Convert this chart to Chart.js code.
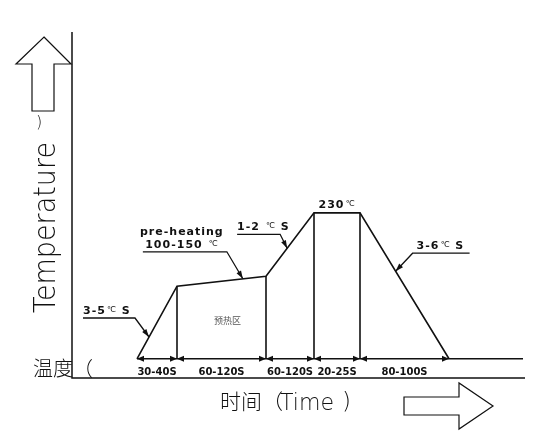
<!DOCTYPE html>
<html>
<head>
<meta charset="utf-8">
<title>Reflow profile</title>
<script src="https://cdn.jsdelivr.net/npm/chart.js@4"></script>
<style>
  html, body { margin: 0; padding: 0; background: #fff; }
  canvas { display: block; }
</style>
</head>
<body>
<canvas id="profile" width="533" height="439"></canvas>
<script>
// corner points of the profile (schematic time units, °C)
const profileTimes = [0, 40, 129, 177, 223, 312];
const profileTemps = [25, 127, 141, 230, 230, 25];

// one label per stage between two corners
const stageLabels = ['30-40S', '60-120S', '60-120S', '20-25S', '80-100S'];

// slope callouts, indexed by stage (null = none)
const rateLabels = [['3-5℃ S'], ['pre-heating', '100-150 ℃'], ['1-2 ℃ S'], null, ['3-6℃ S']];

const peakLabel = '230℃';
const zoneLabel = '预热区';
const yTitle = 'Temperature';
const yTitleCn = '温度（';
const xTitleCn = '时间（';
const xTitle = 'Time';

const timeMin = -65, timeMax = 386;
const tempMin = -2, tempMax = 484;

const ink = '#111';
const boldFont = size => `bold ${size}px "DejaVu Sans"`;
const thinFont = size => `200 ${size}px "DejaVu Sans"`;
const cjkFont = size => `300 ${size}px "Noto Sans CJK SC"`;

const lineStyle = {
  showLine: true,
  borderColor: ink,
  borderWidth: 1.6,
  pointRadius: 0,
  tension: 0,
  fill: false
};

const baseTemp = profileTemps[0];
const profilePoints = profileTimes.map((t, i) => ({ x: t, y: profileTemps[i] }));

// vertical lines under each inner corner
const dropLines = profileTimes.slice(1, -1).map((t, i) => ({
  ...lineStyle,
  data: [{ x: t, y: baseTemp }, { x: t, y: profileTemps[i + 1] }]
}));

// where the callout arrows hit each stage, and how the leader runs
const callouts = [
  { seg: 0, t: 0.30, elbow: [-14, -19], run: -52, align: 'left', dx: 0 },
  { seg: 1, t: 0.74, elbow: [-16, -27], run: -84, align: 'center', dx: -3 },
  { seg: 2, t: 0.44, elbow: [-7, -14], run: -43, align: 'left', dx: 0 },
  { seg: 4, t: 0.40, elbow: [17, -18], run: 57, align: 'left', dx: 4 }
];

// bold text with a small raised ℃ sign
function richText(ctx, str, x, y, size, draw) {
  const parts = str.split('℃');
  let cx = x;
  parts.forEach((p, i) => {
    if (i > 0) {
      ctx.letterSpacing = '0px';
      ctx.font = `${size - 3}px "DejaVu Sans"`;
      if (draw) ctx.fillText('℃', cx + 1, y - 2);
      cx += ctx.measureText('℃').width + 2;
    }
    ctx.letterSpacing = '1px';
    ctx.font = boldFont(size);
    if (draw) ctx.fillText(p, cx, y);
    cx += ctx.measureText(p).width;
  });
  ctx.letterSpacing = '0px';
  return cx - x;
}

function arrowHead(ctx, fromX, fromY, tipX, tipY, len, half) {
  const a = Math.atan2(tipY - fromY, tipX - fromX);
  ctx.beginPath();
  ctx.moveTo(tipX, tipY);
  ctx.lineTo(tipX - len * Math.cos(a) + half * Math.sin(a), tipY - len * Math.sin(a) - half * Math.cos(a));
  ctx.lineTo(tipX - len * Math.cos(a) - half * Math.sin(a), tipY - len * Math.sin(a) + half * Math.cos(a));
  ctx.closePath();
  ctx.fill();
}

const refDecor = {
  id: 'refDecor',
  afterDatasetsDraw(chart) {
    const { ctx, chartArea: area, scales: { x, y } } = chart;
    const px = v => x.getPixelForValue(v);
    const py = v => y.getPixelForValue(v);
    ctx.save();
    ctx.strokeStyle = ink;
    ctx.fillStyle = ink;
    ctx.textBaseline = 'alphabetic';
    ctx.textAlign = 'left';

    // axes
    ctx.lineWidth = 1.5;
    ctx.beginPath();
    ctx.moveTo(area.left, area.top);
    ctx.lineTo(area.left, area.bottom);
    ctx.lineTo(area.right + 2, area.bottom);
    ctx.stroke();

    // hollow direction arrows
    ctx.lineWidth = 1.2;
    ctx.beginPath();
    [[44, 37], [71, 64], [54, 64], [54, 111], [32, 111], [32, 64], [16, 64]]
      .forEach(([a, b], i) => i ? ctx.lineTo(a, b) : ctx.moveTo(a, b));
    ctx.closePath();
    ctx.stroke();
    ctx.beginPath();
    [[404, 397], [459, 397], [459, 383], [493, 406], [459, 429], [459, 415], [404, 415]]
      .forEach(([a, b], i) => i ? ctx.lineTo(a, b) : ctx.moveTo(a, b));
    ctx.closePath();
    ctx.stroke();

    // stage dimensions along the base line
    const baseY = py(baseTemp);
    stageLabels.forEach((label, i) => {
      const a = px(profileTimes[i]), b = px(profileTimes[i + 1]);
      arrowHead(ctx, a + 7, baseY, a, baseY, 7, 3);
      arrowHead(ctx, b - 7, baseY, b, baseY, 7, 3);
      ctx.font = boldFont(10);
      ctx.textAlign = 'center';
      ctx.fillText(label, (a + b) / 2, baseY + 16);
    });
    ctx.textAlign = 'left';

    // slope callouts
    callouts.forEach(c => {
      const lines = rateLabels[c.seg];
      if (!lines) return;
      const x0 = px(profileTimes[c.seg]), y0 = py(profileTemps[c.seg]);
      const x1 = px(profileTimes[c.seg + 1]), y1 = py(profileTemps[c.seg + 1]);
      const tipX = x0 + (x1 - x0) * c.t, tipY = y0 + (y1 - y0) * c.t;
      const ex = tipX + c.elbow[0], ey = tipY + c.elbow[1];
      const ux = ex + c.run;
      ctx.lineWidth = 1.3;
      ctx.beginPath();
      ctx.moveTo(ux, ey);
      ctx.lineTo(ex, ey);
      ctx.lineTo(tipX, tipY);
      ctx.stroke();
      arrowHead(ctx, ex, ey, tipX, tipY, 8, 2.6);
      const left = Math.min(ux, ex), right = Math.max(ux, ex);
      lines.slice().reverse().forEach((ln, k) => {
        const by = ey - 4 - k * 13;
        let tx = left + c.dx;
        if (c.align === 'center') {
          const w = richText(ctx, ln, 0, 0, 11, false);
          tx = (left + right) / 2 - w / 2 + c.dx;
        }
        richText(ctx, ln, tx, by, 11, true);
      });
    });

    // peak label
    const peakMid = (px(profileTimes[3]) + px(profileTimes[4])) / 2;
    const pw = richText(ctx, peakLabel, 0, 0, 11, false);
    richText(ctx, peakLabel, peakMid - pw / 2, py(profileTemps[3]) - 5, 11, true);

    // pre-heating zone label
    ctx.font = '9px "Noto Sans CJK SC"';
    ctx.fillStyle = '#555';
    ctx.textAlign = 'center';
    ctx.textBaseline = 'middle';
    ctx.fillText(zoneLabel, (px(profileTimes[1]) + px(profileTimes[2])) / 2 + 6, baseY - 38);
    ctx.fillStyle = ink;

    // axis titles
    ctx.textBaseline = 'alphabetic';
    ctx.textAlign = 'left';
    ctx.font = cjkFont(20);
    ctx.fillText(yTitleCn, 33, 376);
    ctx.font = cjkFont(21);
    ctx.fillText(xTitleCn, 220, 409);
    ctx.font = thinFont(23);
    ctx.fillText(xTitle, 280, 410, 54);
    ctx.fillText(')', 342, 409);
    ctx.font = thinFont(16);
    ctx.fillText(')', 36, 127);

    ctx.save();
    ctx.translate(55, 313);
    ctx.rotate(-Math.PI / 2);
    ctx.font = thinFont(30);
    ctx.fillText(yTitle, 0, 0, 171);
    ctx.restore();

    ctx.restore();
  }
};

new Chart(document.getElementById('profile'), {
  type: 'scatter',
  data: {
    datasets: [
      { ...lineStyle, data: profilePoints },
      { ...lineStyle, data: [{ x: profileTimes[0], y: baseTemp }, { x: timeMax, y: baseTemp }] },
      ...dropLines
    ]
  },
  options: {
    responsive: false,
    animation: false,
    devicePixelRatio: 1,
    layout: { padding: { left: 72, top: 32, right: 10, bottom: 61 } },
    scales: {
      x: { type: 'linear', min: timeMin, max: timeMax, display: false },
      y: { type: 'linear', min: tempMin, max: tempMax, display: false }
    },
    plugins: {
      legend: { display: false },
      tooltip: { enabled: false }
    }
  },
  plugins: [refDecor]
});
</script>
</body>
</html>
